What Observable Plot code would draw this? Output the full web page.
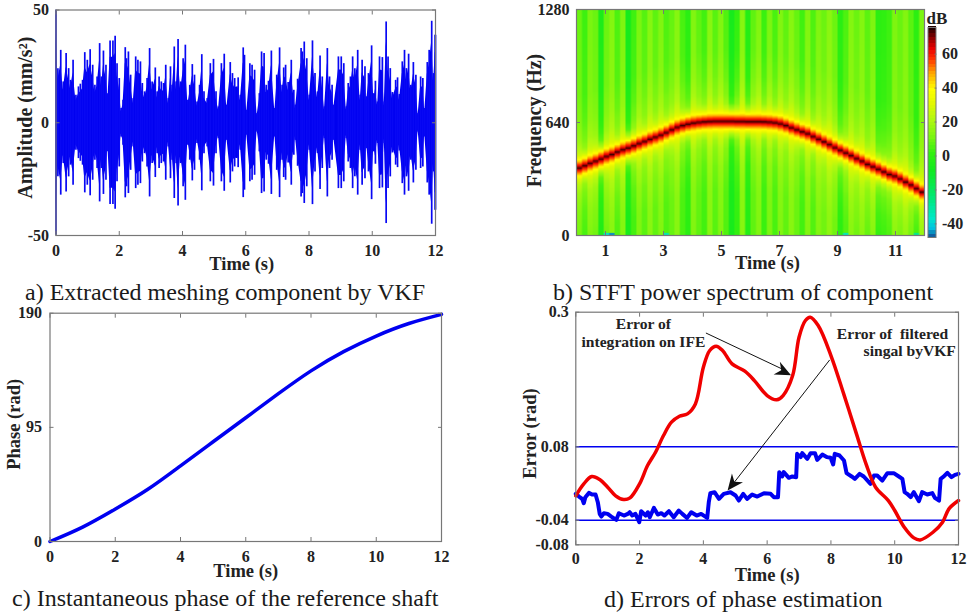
<!DOCTYPE html>
<html>
<head>
<meta charset="utf-8">
<script src="https://cdn.jsdelivr.net/npm/d3@7"></script>
<script src="https://cdn.jsdelivr.net/npm/@observablehq/plot@0.6"></script>
<style>
html,body{margin:0;padding:0;background:#fff;}
#page{position:relative;width:972px;height:612px;overflow:hidden;background:#fff;}
.panel{position:absolute;}
.panel svg{overflow:visible;max-width:none !important;}
.caption{position:absolute;font-family:"Liberation Serif",serif;font-size:24px;color:#1a1a1a;white-space:nowrap;line-height:1;}
</style>
</head>
<body>
<div id="page"></div>
<script>
// Panel a: envelope of the vibration signal
const ampTimes = [0,.06,.15,.23,.32,.40,.46,.54,.63,.71,.77,.84,.91,.99,1.08,1.16,1.23,1.30,1.38,1.44,1.50,1.58,1.64,1.71,1.80,1.87,1.93,2.0,2.06,2.12,2.19,2.23,2.29,2.36,2.44,2.52,2.59,2.67,2.73,2.80,2.88,2.96,
3.04,3.14,3.20,3.26,3.33,3.40,3.47,3.55,3.62,3.67,3.74,3.80,3.86,3.94,4.02,4.09,4.17,4.23,4.31,4.38,4.46,4.54,4.61,4.68,4.78,4.88,4.98,5.06,5.14,5.23,5.32,5.40,5.51,5.58,5.65,5.76,5.83,5.92,
5.96,6.03,6.13,6.20,6.28,6.36,6.43,6.50,6.58,6.65,6.72,6.81,6.92,6.98,7.07,7.15,7.20,7.26,7.34,7.44,7.52,7.57,7.64,7.75,7.79,7.85,7.93,8.01,8.11,8.19,8.27,8.35,8.42,8.49,8.58,8.65,8.73,8.78,8.93,
9.02,9.10,9.18,9.24,9.31,9.38,9.45,9.54,9.62,9.68,9.77,9.82,9.88,9.98,10.05,10.10,10.17,10.23,10.32,10.38,10.44,10.50,10.57,10.64,10.74,10.80,10.86,10.95,11.02,11.08,11.15,11.22,11.30,11.38,11.45,11.53,11.60,11.66,11.74,11.80,11.88,11.94,11.99,12];
const ampPeaks = [49.9,24,32.1,18.1,30.7,24,18.8,27.7,12.2,15.9,17.1,18.8,31.1,27.7,32.4,25.5,16.6,20.3,35.1,20.3,31.8,25.5,12.9,36.3,36.3,38.4,26.2,19.6,6.3,10,33.3,28.4,31.4,21.1,10.7,29.2,27.7,27,17.4,13.7,19.6,32.9,
18.1,24.3,13.7,20.3,18.1,17.4,25.5,10.7,24.8,16.6,33.6,18.1,36.9,18.1,28.4,34.4,10,16.6,25.8,21.1,9.2,16.6,30.2,13.7,10.7,26.2,28.1,13.7,7,26.2,30.4,7.8,26.7,21.8,19.6,19.9,12.2,33.2,
29.9,5.5,26.2,25.5,23.3,4.1,12.9,31.4,30.7,16.6,18.4,31.8,6.3,21.1,33.2,16.6,24.3,25.5,17.8,27.7,14.4,7.8,19.3,32.9,31.4,35.8,28.4,12.2,36.3,21.8,13.7,29.6,20.3,7,32.9,20.3,16.6,7.8,29.2,
29.2,26.2,7,17.4,20.3,29.2,24,32.1,12.2,27.7,24.8,11.5,21.8,34.1,12.9,18.4,9.2,29.2,28.9,9.2,44.7,29.2,24,13.4,18.8,19.9,12.5,27,32.1,24,30.4,16.6,26.7,21.1,4.1,20.3,19.6,6.3,26.7,32.1,45,21.8,38.8,38.8];
const ampCoreShare = 0.8;

// Panel b: ridge frequency and background level for each STFT time column
const ridgeHz = [382,395,408,420,433,447,458,472,485,495,507,520,532,545,556,568,582,598,612,622,630,636,640,643,645,646,646,646,646,645,645,644,644,644,643,641,638,632,622,610,598,587,576,560,545,530,514,497,482,467,452,435,420,403,389,375,360,345,335,320,302,285,265,245];
const stripeDb = [0,-6,2,0,-14,0,4,-4,3,-16,-6,2,-3,4,-2,3,-4,-1,4,-5,-10,3,-2,-6,4,-3,3,-4,-16,-8,4,-12,-2,3,-7,2,-5,3,-2,4,-1,-6,3,-4,3,0,5,0,-10,-4,4,0,4,-2,3,-9,-8,-6,3,0,4,-2,-9,3];
const profileHz = [0,5,10,16,22,28,35,42,56,70,100,150,250,400,700,1300];
const profileDb = [73,68,63,58,54,50,45,40,33,27,21,16,12,9,8,7];
const spotColumns = [5,6,16,49,62];
const spotDb = [-38,-46,-35,-36,-30];
const colorDomain = [-48,-44,-38,-25,-10,0,10,20,30,38,48,56,62,68,75];
const colorRange = ["#1060a0","#00c0e0","#00e8c8","#00e870","#10ea20","#30f010","#7af510","#b0f810","#e4f800","#ffff00","#ffa000","#ff3000","#e80000","#900000","#100000"];
const colorbarTicks = [60,40,20,0,-20,-40];

// Panel c: instantaneous phase
const phaseTimes = [0,1,2,3,4,5,6,7,8,9,10,11,12];
const phaseRad = [0,12,27,43.5,63,83,103,123,142,158,171,181.4,189];

// Panel d: phase errors
const redTimes = [0,.25,.5,.75,1,1.25,1.5,1.7,2,2.25,2.5,2.75,3,3.25,3.5,3.75,4,4.2,4.4,4.6,4.9,5.3,5.6,6,6.3,6.5,6.8,7,7.2,7.35,7.6,8,8.4,8.8,9.1,9.4,9.8,10,10.3,10.6,10.8,11.2,11.5,11.7,12];
const redError = [0,.0195,.0315,.0266,.0141,0,-.0061,-.0034,.0195,.0495,.0712,.0985,.1203,.1301,.1339,.1502,.2101,.2374,.2444,.2374,.2156,.2036,.1883,.1638,.1568,.1638,.1965,.2592,.2864,.2918,.2782,.2292,.1666,.1012,.0522,.0141,-.0077,-.024,-.0513,-.0687,-.072,-.0595,-.0431,-.0213,-.0077];
const blueTimes = [0,.1,.2,.25,.3,.41,.51,.62,.69,.75,.8,.88,1,1.14,1.27,1.35,1.51,1.63,1.69,1.77,1.87,1.99,2.05,2.19,2.26,2.32,2.45,2.57,2.68,2.78,2.92,3.07,3.23,3.34,3.49,3.62,3.79,3.93,4.12,4.17,4.22,4.35,4.49,4.64,4.85,5.01,5.11,5.25,5.37,5.53,5.69,5.9,6.11,6.21,6.34,6.38,6.47,6.52,6.68,6.79,6.91,6.94,7.05,7.1,7.26,7.36,7.5,7.57,7.73,7.88,7.99,8.07,8.12,8.27,8.41,8.49,8.65,8.75,8.9,9.03,9.24,9.35,9.45,9.61,9.77,9.97,10.13,10.24,10.31,10.39,10.5,10.6,10.76,10.86,11.02,11.18,11.26,11.39,11.44,11.54,11.65,11.78,11.89,12];
const blueError = [.0032,-.0012,-.005,-.0121,-.0023,.0048,.0021,.0021,-.0104,-.0295,-.0339,-.0284,-.0295,-.035,-.0393,-.0284,-.0322,-.0295,-.0268,-.0322,-.0295,-.0431,-.0251,-.0322,-.0268,-.035,-.0197,-.0306,-.0284,-.0322,-.0251,-.035,-.0241,-.0295,-.0361,-.0268,-.0322,-.0295,-.0361,-.0104,.0043,.0059,-.005,.0032,.0059,.0005,-.0077,.0032,-.005,.0021,-.0012,.0043,.0033,-.0022,-.0022,.0387,.0316,.0387,.0294,.0316,.0305,.0686,.0632,.0697,.0604,.0697,.0697,.0588,.0675,.0632,.0621,.0512,.0686,.0659,.0577,.037,.0316,.0278,.0359,.0316,.0196,.0332,.0332,.025,.037,.037,.0316,.0278,.006,.0033,-.0022,.006,-.0087,.006,.0022,.0044,-.0033,-.0077,.0278,.0316,.0376,.0305,.0343,.0359];
const limitLines = [.08,-.04];
const errorTicks = [.3,.08,-.04,-.08];

const timeTicksEven = [0,2,4,6,8,10,12];
const timeTicksOdd = [1,3,5,7,9,11];

const FONT = '"Liberation Serif",serif';
const INK = "#222";
const EDGE = "#777";
const TICK_FONT = 16;
const LABEL_FONT = 18.5;
const NOTE_FONT = 15.6;

function label(text, dx, dy, rotate = 0, fontSize = LABEL_FONT) {
  return Plot.text([text], {text: d => d, frameAnchor: "middle", dx, dy, rotate, fontSize, fontWeight: "bold", fill: INK});
}
function axes(xTicks, yTicks, px = 13.5, py = 11) {
  const fmt = d => String(d);
  return [
    Plot.axisX({anchor: "bottom", ticks: xTicks, tickSize: -4, tickPadding: px, tickFormat: fmt, label: null, stroke: EDGE, fill: INK}),
    Plot.axisX({anchor: "top", ticks: xTicks, tickSize: -4, fill: "none", label: null, stroke: EDGE}),
    Plot.axisY({anchor: "left", ticks: yTicks, tickSize: -4, tickPadding: py, tickFormat: fmt, label: null, stroke: EDGE, fill: INK}),
    Plot.axisY({anchor: "right", ticks: yTicks, tickSize: -4, fill: "none", label: null, stroke: EDGE}),
    Plot.frame({stroke: EDGE, strokeWidth: 1.2})
  ];
}
function place(left, top, frame, options) {
  const width = Math.round(frame.r + 20 - left), height = Math.round(frame.b + 45 - top);
  const svg = Plot.plot({
    width, height,
    marginLeft: frame.l - left, marginRight: width - (frame.r - left),
    marginTop: frame.t - top, marginBottom: height - (frame.b - top),
    style: {fontFamily: FONT, fontSize: TICK_FONT + "px", fontWeight: "bold", background: "transparent", color: INK},
    ...options
  });
  const div = document.createElement("div");
  div.className = "panel";
  div.style.left = left + "px";
  div.style.top = top + "px";
  div.style.width = width + "px";
  div.style.height = height + "px";
  div.appendChild(svg);
  document.getElementById("page").appendChild(div);
}
function caption(text, left, top) {
  const d = document.createElement("div");
  d.className = "caption";
  d.textContent = text;
  d.style.left = left + "px";
  d.style.top = top + "px";
  document.getElementById("page").appendChild(d);
}

// a) signal
place(0, 0, {l: 55.5, r: 435, t: 9.5, b: 235}, {
  x: {domain: [0, 12]}, y: {domain: [-50, 50]},
  marks: [
    Plot.areaY(ampTimes, {x: ampTimes, y1: ampPeaks.map(v => -v * ampCoreShare), y2: ampPeaks.map(v => v * ampCoreShare), fill: "#0000f0"}),
    Plot.ruleX(ampTimes, {x: ampTimes, y1: ampPeaks.map(v => -v), y2: ampPeaks, stroke: "#0808f4", strokeWidth: 1.7}),
    ...axes(timeTicksEven, [-50, 0, 50]),
    label("Time (s)", -4, 141),
    label("Amplitude (mm/s²)", -220, -5, -90, 20)
  ]
});

// b) spectrogram
const nCols = ridgeHz.length, nRows = 180, sub = 3, colW = 12 / nCols, rowH = 1280 / nRows;
const levelAt = d3.scaleLinear().domain(profileHz).range(profileDb).clamp(true);
const cells = [];
for (let c = 0; c < nCols; c++) {
  for (let s = 0; s < sub; s++) {
    for (let r = 0; r < nRows; r++) {
      const f = (r + 0.5) * rowH, dist = Math.abs(f - ridgeHz[c]);
      const weight = Math.min(1, Math.max(0, (dist - 35) / 70));
      let db = levelAt(dist) + stripeDb[c] * weight;
      const spot = spotColumns.indexOf(c);
      if (spot >= 0 && r < 2) db = spotDb[spot];
      cells.push({t: (c + (s + 0.5) / sub) * colW, f, db});
    }
  }
}
place(520, 0, {l: 576, r: 924, t: 9, b: 235}, {
  x: {domain: [0, 12]}, y: {domain: [0, 1280]},
  color: {type: "linear", domain: colorDomain, range: colorRange, clamp: true},
  marks: [
    Plot.raster(cells, {x: "t", y: "f", fill: "db", x1: 0, x2: 12, y1: 0, y2: 1280, width: nCols * sub, height: nRows, imageRendering: "auto"}),
    ...axes(timeTicksOdd, [0, 640, 1280]),
    label("Time (s)", 17, 141),
    label("Frequency (Hz)", -216, -2, -90, 20)
  ]
});

// colour bar
const barLevels = d3.range(-48, 75.5, 2);
place(925, 0, {l: 927.5, r: 935.5, t: 27, b: 237}, {
  x: {domain: [0, 1], axis: null}, y: {domain: [-48, 75.7]},
  color: {type: "linear", domain: colorDomain, range: colorRange, clamp: true},
  marks: [
    Plot.rect(barLevels, {x1: 0, x2: 1, y1: d => d, y2: d => d + 2, fill: d => d, shapeRendering: "crispEdges"}),
    Plot.axisY({anchor: "right", ticks: colorbarTicks, tickSize: -2, tickPadding: 8, tickFormat: d => String(d), label: null, stroke: EDGE, fill: INK}),
    Plot.frame({stroke: EDGE}),
    label("dB", 5, -114, 0, 17)
  ]
});

// c) phase
place(0, 300, {l: 49.5, r: 441, t: 312.7, b: 541}, {
  x: {domain: [0, 12]}, y: {domain: [0, 190]},
  marks: [
    Plot.line(phaseTimes, {x: phaseTimes, y: phaseRad, stroke: "#0000f0", strokeWidth: 3.5, curve: "natural"}),
    ...axes(timeTicksEven, [0, 95, 190], 13.5, 12),
    label("Time (s)", 0, 144),
    label("Phase (rad)", -232, -3, -90)
  ]
});

// d) errors
const stealth = {draw(ctx) {
  ctx.moveTo(0, 0);
  ctx.lineTo(7, 16);
  ctx.lineTo(0, 11);
  ctx.lineTo(-7, 16);
  ctx.closePath();
}};
const note = (text, x, y) => Plot.text([text], {x, y, text: d => d, fontSize: NOTE_FONT, fontWeight: "bold", fill: INK});
place(520, 300, {l: 575.3, r: 958, t: 311.7, b: 544.3}, {
  x: {domain: [0, 12]}, y: {domain: [-.08, .3]},
  marks: [
    Plot.ruleY(limitLines, {stroke: "#0000f0", strokeWidth: 1.5}),
    Plot.line(blueTimes, {x: blueTimes, y: blueError, stroke: "#0000f0", strokeWidth: 4}),
    Plot.line(redTimes, {x: redTimes, y: redError, stroke: "#f00000", strokeWidth: 3.5, curve: "catmull-rom"}),
    Plot.link([0], {x1: 4.08, y1: .266, x2: 6.6, y2: .204, stroke: "#111", strokeWidth: 1}),
    Plot.link([0], {x1: 7.96, y1: .222, x2: 4.9, y2: .0175, stroke: "#111", strokeWidth: 1}),
    Plot.vector([0], {x: 6.75, y: .197, shape: stealth, rotate: 116.4, fill: "#111", stroke: "none", anchor: "start", length: 15}),
    Plot.vector([0], {x: 4.76, y: .0087, shape: stealth, rotate: -142, fill: "#111", stroke: "none", anchor: "start", length: 15}),
    ...axes(timeTicksEven, errorTicks, 12, 11),
    note("Error of", 2.12, .2815),
    note("integration on IFE", 2.12, .251),
    note("Error of  filtered", 9.93, .264),
    note("singal byVKF", 10.47, .2358),
    label("Time (s)", 0, 146.7),
    label("Error (rad)", -236.6, 5, -90)
  ]
});

caption("a) Extracted meshing component by VKF", 25, 280);
caption("b) STFT power spectrum of component", 553, 280);
caption("c) Instantaneous phase of the reference shaft", 12, 586);
caption("d) Errors of phase estimation", 604, 587);
</script>
</body>
</html>
